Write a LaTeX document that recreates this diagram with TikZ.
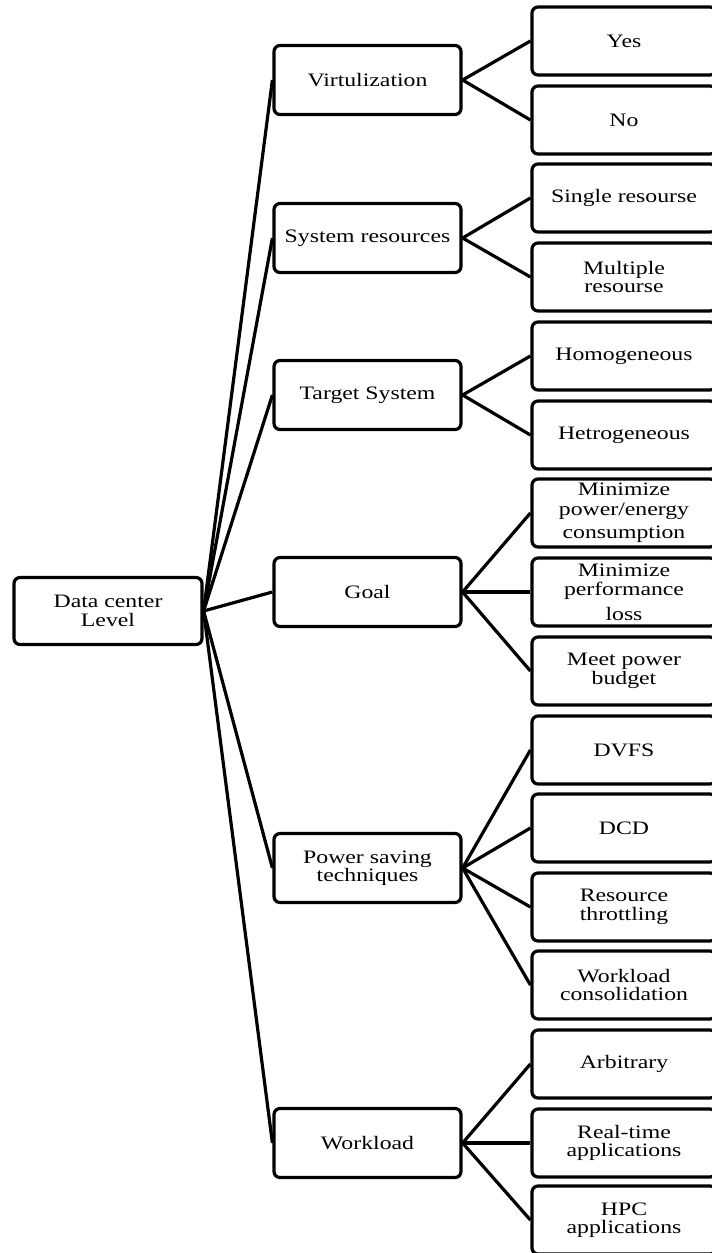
\documentclass[tikz,border=0pt]{standalone}
\usepackage{fontspec}
\setmainfont[FakeStretch=1.25]{Liberation Serif}
\begin{document}
\begin{tikzpicture}[x=1pt,y=-1pt,
  box/.style={draw=black, line width=3.2pt, rounded corners=6pt, fill=white,
    align=center, inner sep=1pt, font={\fontsize{19}{18.5}\selectfont}},
  rootbox/.style={box, minimum width=188pt, minimum height=67pt},
  midbox/.style={box, minimum width=187pt, minimum height=69pt},
  leafbox/.style={box, minimum width=184pt, minimum height=68pt},
  link/.style={draw=black, line width=3.2pt}]
\useasboundingbox (0,0) rectangle (712,1253);
\clip (0,0) rectangle (712,1253);

\node[rootbox] (root) at (108,611) {Data center\\Level};

\node[midbox] (virt) at (367.5,80) {Virtulization};
\node[midbox] (sys) at (367.5,238) {System resources};
\node[midbox] (tgt) at (367.5,395) {Target System};
\node[midbox] (goal) at (367.5,592) {Goal};
\node[midbox] (pow) at (367.5,868) {Power saving\\techniques};
\node[midbox] (work) at (367.5,1143) {Workload};

\node[leafbox] (yes) at (624,41) {Yes};
\node[leafbox] (no) at (624,120) {No};
\node[leafbox] (single) at (624,198) {Single resourse};
\node[leafbox] (multi) at (624,277) {Multiple\\resourse};
\node[leafbox] (homo) at (624,356) {Homogeneous};
\node[leafbox] (hetro) at (624,435) {Hetrogeneous};
\node[leafbox] (minpow) at (624,513) {Minimize\\[1pt]power/energy\\[5pt]consumption};
\node[leafbox] (minperf) at (624,592) {Minimize\\[1pt]performance\\[6pt]loss};
\node[leafbox] (meet) at (624,671) {Meet power\\budget};
\node[leafbox] (dvfs) at (624,750) {DVFS};
\node[leafbox] (dcd) at (624,828) {DCD};
\node[leafbox] (throt) at (624,907) {Resource\\throttling};
\node[leafbox] (consol) at (624,985) {Workload\\consolidation};
\node[leafbox] (arb) at (624,1064) {Arbitrary};
\node[leafbox] (rt) at (624,1143) {Real-time\\applications};
\node[leafbox] (hpc) at (624,1220) {HPC\\applications};

\foreach \m in {virt,sys,tgt,goal,pow,work}
  \draw[link] (root.east) -- (\m.west);

\foreach \m/\l in {virt/yes, virt/no, sys/single, sys/multi, tgt/homo, tgt/hetro,
  goal/minpow, goal/minperf, goal/meet, pow/dvfs, pow/dcd, pow/throt, pow/consol,
  work/arb, work/rt, work/hpc}
  \draw[link] (\m.east) -- (\l.west);
\end{tikzpicture}
\end{document}
